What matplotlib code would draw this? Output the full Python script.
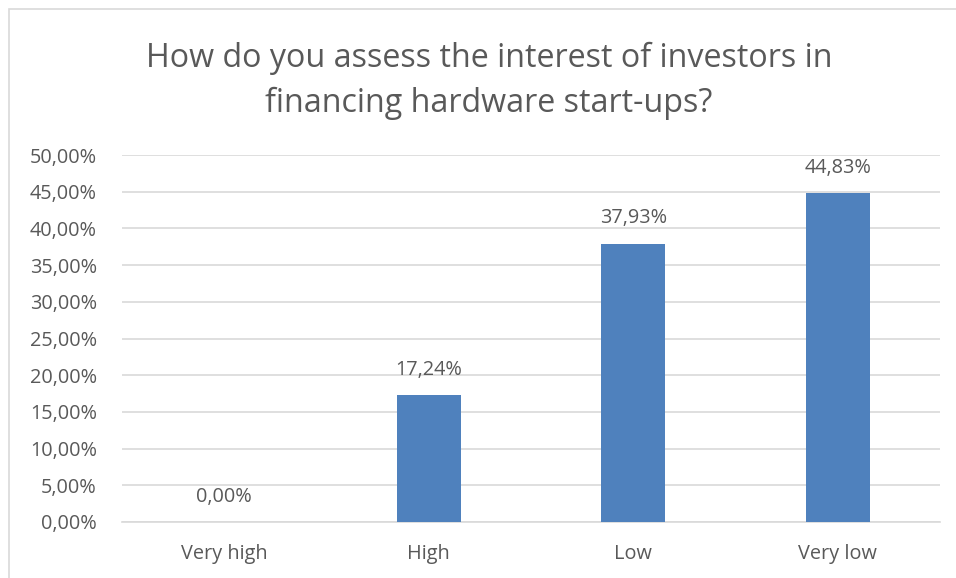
import matplotlib
matplotlib.use("Agg")
import matplotlib.pyplot as plt
from matplotlib.patches import Rectangle
from matplotlib.ticker import FuncFormatter, MultipleLocator

categories = ["Very high", "High", "Low", "Very low"]
values = [0.00, 17.24, 37.93, 44.83]
title = "How do you assess the interest of investors in\nfinancing hardware start-ups?"

plt.rcParams["font.family"] = ["Open Sans", "DejaVu Sans"]
text_color = "#595959"
bar_color = "#4F81BD"
grid_color = "#D9D9D9"

W, H = 956, 578
fig = plt.figure(figsize=(W / 100, H / 100), dpi=100)

# chart frame (extends past right/bottom edge)
fig.patches.append(Rectangle((9 / W, -0.1), 1.2, (H - 9) / H + 0.1,
                             transform=fig.transFigure, fill=False,
                             edgecolor=grid_color, linewidth=1.2))

ax = fig.add_axes([122 / W, (H - 522) / H, (940 - 122) / W, (522 - 155) / H])
x = range(len(categories))
ax.bar(x, values, width=0.315, color=bar_color, zorder=3)
ax.set_xlim(-0.5, len(categories) - 0.5)
ax.set_ylim(0, 50)
ax.yaxis.set_major_locator(MultipleLocator(5))
ax.yaxis.set_major_formatter(FuncFormatter(lambda v, p: f"{v:.2f}".replace(".", ",") + "%"))
ax.grid(axis="y", color=grid_color, linewidth=1.2, zorder=0)
for s in ax.spines.values():
    s.set_visible(False)
ax.spines["bottom"].set_visible(True)
ax.spines["bottom"].set_color(grid_color)
ax.spines["bottom"].set_linewidth(1.2)
ax.tick_params(axis="both", length=0, labelsize=14.3, colors=text_color)
ax.tick_params(axis="x", pad=16)
ax.tick_params(axis="y", pad=18)
ax.set_xticks(list(x))
ax.set_xticklabels(categories)

for xi, v in zip(x, values):
    ax.annotate(f"{v:.2f}".replace(".", ",") + "%", (xi, v), xytext=(0, 11),
                textcoords="offset points", ha="center", va="bottom",
                fontsize=14.3, color=text_color)

fig.text(489 / W, (H - 81) / H, title, ha="center", va="center", fontsize=23.2,
         color=text_color, linespacing=1.45)

fig.savefig("out.png", dpi=100)
